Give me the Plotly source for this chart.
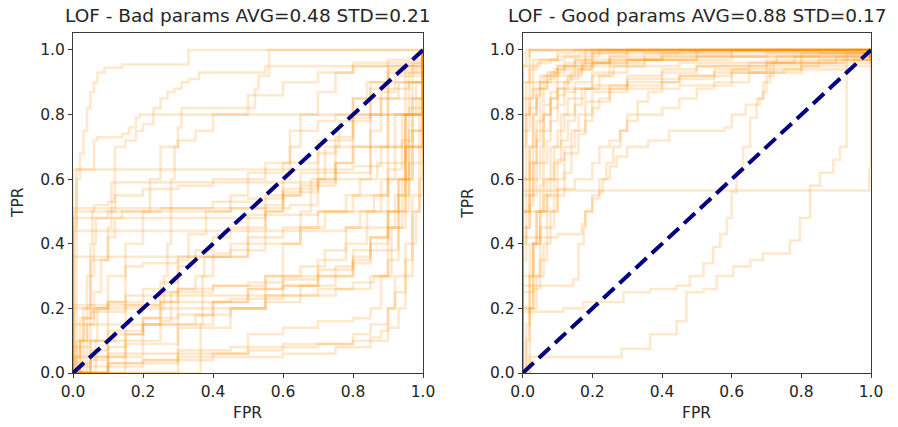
import plotly.graph_objects as go

# ROC curves of LOF runs with poorly chosen parameters (FPR / TPR per run)
bad_fpr = [
    [0, 0, 0.01, 0.02, 0.03, 0.04, 0.05, 0.06, 0.07, 0.09, 0.14, 0.33, 1],
    [0, 0, 0.06, 0.07, 0.14, 0.16, 0.18, 0.19, 0.23, 0.25, 0.27, 0.29, 0.31, 0.33, 0.36, 0.55, 0.97, 1],
    [0, 0.02, 0.04, 0.05, 0.06, 0.065, 0.1, 0.12, 0.12, 0.15, 0.18, 0.2, 0.23, 0.96, 1],
    [0, 0, 0.25, 0.26, 0.27, 0.28, 0.28, 0.29, 0.3, 0.31, 0.52, 0.53, 0.56, 1],
    [0, 0.36, 0.365, 0.37, 0.375, 0.5, 0.55, 0.6, 0.62, 0.65, 0.7, 0.75, 0.8, 1],
    [0, 0, 0.62, 0.7, 0.75, 0.8, 0.85, 0.9, 1],
    [0, 0, 0.45, 0.55, 0.65, 0.75, 0.85, 0.9, 0.95, 1],
    [0, 0, 0.5, 0.7, 0.9, 0.95, 1],
    [0, 0, 0.78, 0.9, 0.95, 1],
    [0, 0.01, 0.8, 0.88, 0.92, 0.96, 1],
    [0, 0.05, 0.1, 0.11, 0.75, 0.85, 0.9, 1],
    [0, 0, 0.4, 0.45, 0.5, 0.6, 0.7, 0.8, 0.9, 0.95, 1],
    [0, 0, 0.1, 0.2, 0.3, 0.4, 0.5, 0.6, 0.7, 0.8, 0.85, 0.9, 0.93, 0.96, 1],
    [0, 0.02, 0.05, 0.15, 0.3, 0.5, 0.6, 0.7, 0.8, 0.85, 0.9, 0.92, 0.95, 1],
    [0, 0.03, 0.1, 0.2, 0.3, 0.4, 0.5, 0.6, 0.7, 0.8, 0.85, 0.9, 0.93, 0.96, 1],
    [0, 0.1, 0.2, 0.3, 0.4, 0.5, 0.6, 0.7, 0.8, 0.85, 0.88, 0.9, 0.92, 0.95, 0.97, 1],
    [0, 0.1, 0.3, 0.5, 0.6, 0.7, 0.8, 0.85, 0.88, 0.91, 0.94, 0.97, 1],
    [0, 0.05, 0.15, 0.3, 0.45, 0.55, 0.65, 0.75, 0.8, 0.85, 0.9, 0.93, 0.95, 0.97, 1],
    [0, 0.02, 0.05, 0.1, 0.2, 0.3, 0.4, 0.5, 0.6, 0.7, 0.78, 0.84, 0.88, 0.92, 0.95, 0.98, 1],
    [0, 0, 0.15, 0.25, 0.4, 0.55, 0.65, 0.72, 0.78, 0.82, 0.86, 0.9, 0.94, 0.97, 1],
    [0, 0.05, 0.1, 0.15, 0.2, 0.25, 0.3, 0.35, 0.4, 0.5, 0.55, 0.6, 0.65, 0.7, 0.75, 0.8, 0.85, 0.9, 0.95, 1],
    [0, 0.1, 0.2, 0.25, 0.28, 0.3, 0.35, 0.4, 0.45, 0.5, 0.55, 0.6, 0.65, 0.7, 0.75, 0.8, 0.85, 0.88, 0.92, 1],
    [0, 0.01, 0.02, 0.03, 0.04, 0.05, 0.055, 0.06, 0.1, 0.12, 0.2, 0.3, 0.4, 0.5, 0.6, 0.7, 0.8, 0.85, 0.88, 0.9, 0.96, 1],
    [0, 0.06, 0.065, 0.07, 0.1, 0.15, 0.2, 0.25, 0.3, 0.33, 0.38, 0.45, 0.5, 0.55, 0.62, 0.7, 0.75, 0.8, 0.85, 0.9, 1],
    [0, 0.01, 0.03, 0.06, 0.1, 0.25, 0.45, 0.6, 0.7, 0.8, 0.86, 0.9, 0.93, 0.95, 0.97, 0.99, 1],
    [0, 0, 0.1, 0.3, 0.45, 0.6, 0.8, 0.85, 0.9, 0.92, 0.95, 0.97, 0.99, 1],
    [0, 0, 0.05, 0.12, 0.2, 0.35, 0.45, 0.55, 0.65, 0.75, 0.85, 0.9, 0.93, 0.96, 1],
    [0, 0.1, 0.15, 0.2, 0.3, 0.45, 0.55, 0.65, 0.72, 0.78, 0.82, 0.87, 0.9, 0.94, 0.97, 1],
    [0, 0.04, 0.06, 0.08, 0.1, 0.12, 0.14, 0.25, 0.4, 0.5, 0.6, 0.7, 0.75, 0.8, 0.85, 0.88, 0.9, 0.93, 0.97, 1],
    [0, 0.02, 0.1, 0.2, 0.4, 0.6, 0.75, 0.85, 0.9, 0.93, 0.95, 0.97, 0.98, 0.99, 1],
    [0, 0.15, 0.2, 0.22, 0.25, 0.3, 0.35, 0.4, 0.5, 0.6, 0.7, 0.8, 0.9, 1],
    [0, 0.3, 0.4, 0.55, 0.6, 0.65, 0.68, 0.72, 0.76, 0.8, 0.84, 0.9, 1],
]
bad_tpr = [
    [0, 0.45, 0.6, 0.68, 0.75, 0.82, 0.87, 0.9, 0.93, 0.945, 0.955, 1.0, 1],
    [0, 0.63, 0.72, 0.73, 0.74, 0.76, 0.79, 0.8, 0.82, 0.85, 0.87, 0.88, 0.9, 0.91, 0.93, 0.95, 0.96, 1],
    [0, 0.1, 0.2, 0.3, 0.4, 0.48, 0.5, 0.62, 0.7, 0.72, 0.75, 0.77, 0.8, 0.82, 1],
    [0, 0.15, 0.2, 0.3, 0.4, 0.5, 0.6, 0.7, 0.76, 0.82, 0.88, 0.92, 1.0, 1],
    [0, 0, 0.15, 0.3, 0.36, 0.4, 0.5, 0.6, 0.7, 0.8, 0.87, 0.93, 0.96, 1],
    [0, 0.51, 0.52, 0.6, 0.7, 0.8, 0.88, 0.94, 1],
    [0, 0.5, 0.51, 0.55, 0.58, 0.62, 0.7, 0.8, 0.9, 1],
    [0, 0.48, 0.49, 0.5, 0.6, 0.8, 1],
    [0, 0.44, 0.45, 0.5, 0.7, 1],
    [0, 0.63, 0.64, 0.7, 0.8, 0.9, 1],
    [0, 0.35, 0.45, 0.59, 0.6, 0.7, 0.85, 1],
    [0, 0.36, 0.37, 0.4, 0.42, 0.45, 0.5, 0.55, 0.65, 0.8, 1],
    [0, 0.21, 0.22, 0.24, 0.26, 0.27, 0.28, 0.29, 0.32, 0.36, 0.42, 0.5, 0.6, 0.8, 1],
    [0, 0.17, 0.19, 0.2, 0.24, 0.26, 0.27, 0.3, 0.35, 0.4, 0.45, 0.55, 0.7, 1],
    [0, 0.1, 0.13, 0.17, 0.2, 0.22, 0.24, 0.27, 0.3, 0.34, 0.38, 0.45, 0.55, 0.75, 1],
    [0, 0.02, 0.04, 0.05, 0.06, 0.07, 0.08, 0.09, 0.1, 0.11, 0.13, 0.2, 0.3, 0.4, 0.55, 1],
    [0, 0.03, 0.06, 0.12, 0.14, 0.16, 0.17, 0.2, 0.3, 0.45, 0.6, 0.75, 1],
    [0, 0.05, 0.09, 0.14, 0.2, 0.24, 0.27, 0.33, 0.38, 0.42, 0.5, 0.6, 0.7, 0.85, 1],
    [0, 0.03, 0.07, 0.1, 0.15, 0.18, 0.22, 0.26, 0.3, 0.35, 0.4, 0.5, 0.6, 0.7, 0.8, 0.9, 1],
    [0, 0.2, 0.21, 0.25, 0.27, 0.3, 0.33, 0.38, 0.45, 0.5, 0.55, 0.63, 0.72, 0.8, 1],
    [0, 0.04, 0.08, 0.12, 0.17, 0.22, 0.26, 0.3, 0.36, 0.45, 0.5, 0.57, 0.62, 0.68, 0.73, 0.79, 0.85, 0.9, 0.95, 1],
    [0, 0.05, 0.1, 0.16, 0.25, 0.33, 0.38, 0.42, 0.45, 0.48, 0.52, 0.55, 0.57, 0.62, 0.65, 0.7, 0.8, 0.87, 0.92, 1],
    [0, 0.05, 0.1, 0.2, 0.3, 0.4, 0.5, 0.52, 0.53, 0.55, 0.57, 0.58, 0.6, 0.62, 0.65, 0.72, 0.78, 0.8, 0.85, 0.88, 0.93, 1],
    [0, 0, 0.1, 0.2, 0.22, 0.24, 0.26, 0.28, 0.35, 0.43, 0.5, 0.55, 0.6, 0.65, 0.75, 0.78, 0.8, 0.85, 0.9, 0.93, 1],
    [0, 0.1, 0.17, 0.2, 0.21, 0.22, 0.23, 0.24, 0.26, 0.28, 0.3, 0.35, 0.45, 0.6, 0.7, 0.85, 1],
    [0, 0.05, 0.06, 0.07, 0.08, 0.09, 0.12, 0.15, 0.2, 0.25, 0.35, 0.5, 0.7, 1],
    [0, 0.08, 0.1, 0.12, 0.15, 0.18, 0.2, 0.22, 0.24, 0.26, 0.3, 0.38, 0.5, 0.65, 1],
    [0, 0.3, 0.33, 0.34, 0.36, 0.38, 0.4, 0.45, 0.5, 0.55, 0.6, 0.65, 0.7, 0.8, 0.9, 1],
    [0, 0.15, 0.25, 0.35, 0.42, 0.48, 0.5, 0.51, 0.53, 0.54, 0.56, 0.6, 0.65, 0.7, 0.75, 0.8, 0.85, 0.9, 0.95, 1],
    [0, 0.02, 0.03, 0.04, 0.05, 0.06, 0.08, 0.1, 0.14, 0.2, 0.3, 0.4, 0.5, 0.6, 1],
    [0, 0.4, 0.5, 0.6, 0.7, 0.72, 0.75, 0.8, 0.86, 0.9, 0.93, 0.95, 0.97, 1],
    [0, 0.15, 0.2, 0.3, 0.4, 0.5, 0.6, 0.7, 0.78, 0.85, 0.9, 0.95, 1],
]

# ROC curves of LOF runs with well chosen parameters
good_fpr = [
    [0, 0, 0.01, 0.02, 1],
    [0, 0, 0.02, 1],
    [0, 0, 0.01, 1],
    [0, 0, 0.01, 0.02, 0.03, 0.05, 0.1, 0.15, 1],
    [0, 0, 0.01, 0.02, 0.03, 0.04, 0.05, 0.07, 0.1, 0.15, 0.2, 0.3, 1],
    [0, 0, 0.01, 0.02, 0.03, 0.04, 0.05, 0.06, 0.08, 0.1, 0.13, 0.17, 0.25, 0.4, 0.6, 1],
    [0, 0, 0.02, 0.03, 0.04, 0.05, 0.06, 0.07, 0.08, 0.1, 0.12, 0.15, 0.2, 0.3, 0.45, 0.7, 1],
    [0, 0, 0.02, 0.03, 0.05, 0.06, 0.08, 0.1, 0.2, 0.3, 0.45, 0.6, 0.8, 0.95, 1],
    [0, 0, 0.03, 0.05, 0.07, 0.09, 0.11, 0.13, 0.15, 0.25, 0.3, 0.4, 0.5, 0.7, 0.9, 1],
    [0, 0, 0.03, 0.05, 0.07, 0.09, 0.1, 0.12, 0.14, 0.16, 0.18, 0.2, 0.25, 0.3, 0.4, 0.55, 0.75, 0.95, 1],
    [0, 0, 0.145, 0.16, 0.175, 0.18, 0.2, 0.22, 0.24, 0.26, 0.28, 0.3, 0.33, 0.4, 0.45, 0.5, 0.55, 0.65, 0.8, 1],
    [0, 0, 0.1, 0.17, 0.18, 0.2, 0.22, 0.23, 0.25, 0.27, 0.3, 0.36, 0.42, 0.58, 0.6, 0.64, 0.68, 0.69, 0.7, 0.72, 0.8, 1],
    [0, 0, 0.117, 0.174, 0.289, 0.366, 0.442, 0.48, 0.519, 0.547, 0.567, 0.586, 0.6, 0.614, 0.633, 0.653, 0.672, 0.691, 0.71, 0.729, 1],
    [0, 0.02, 0.284, 0.366, 0.442, 0.47, 0.52, 0.557, 0.605, 0.653, 0.69, 0.767, 0.796, 0.825, 0.854, 0.892, 0.911, 0.93, 1],
    [0, 0, 0.995, 1],
    [0, 0, 0.01, 0.02, 0.03, 0.05, 0.08, 0.12, 0.18, 0.25, 0.35, 0.5, 1],
    [0, 0, 0.02, 0.04, 0.06, 0.08, 0.1, 0.12, 0.14, 0.17, 0.2, 0.22, 1],
    [0, 0, 0.02, 0.04, 0.06, 0.08, 0.1, 0.12, 0.15, 0.18, 0.22, 0.26, 0.35, 0.5, 0.7, 1],
    [0, 0.01, 0.02, 0.04, 0.06, 0.08, 0.1, 0.12, 0.14, 0.16, 0.18, 0.2, 0.25, 0.3, 0.4, 0.5, 0.7, 0.92, 1],
    [0, 0, 0.02, 0.03, 0.04, 0.05, 0.07, 0.1, 0.15, 0.2, 0.3, 0.5, 0.8, 1],
    [0, 0, 0.01, 0.02, 0.04, 0.08, 0.12, 0.16, 0.2, 1],
    [0, 0, 0.03, 0.05, 0.1, 0.15, 0.25, 0.35, 0.5, 0.6, 1],
    [0, 0, 0.01, 0.02, 0.03, 0.04, 0.05, 0.06, 0.07, 0.09, 0.12, 0.15, 0.18, 1],
    [0, 0.02, 0.03, 0.05, 0.07, 0.09, 0.11, 0.13, 0.15, 0.17, 0.2, 0.25, 0.3, 0.4, 0.6, 1],
    [0, 0, 0.02, 0.04, 0.06, 0.08, 0.1, 0.13, 0.16, 0.2, 0.25, 0.3, 1],
    [0, 0, 0.03, 0.1, 0.2, 0.45, 1],
    [0, 0, 0.02, 0.04, 0.06, 0.1, 0.15, 0.2, 0.35, 0.6, 0.85, 1],
    [0, 0.01, 0.02, 0.03, 0.05, 0.06, 0.08, 0.1, 0.12, 0.15, 0.18, 0.2, 0.22, 0.25, 0.3, 0.45, 0.6, 0.7, 0.85, 1],
    [0, 0, 0.1, 0.15, 0.2, 0.22, 0.25, 0.28, 0.3, 0.33, 0.36, 0.4, 0.45, 0.55, 0.65, 0.78, 1],
]
good_tpr = [
    [0, 0.95, 0.98, 1.0, 1],
    [0, 0.9, 1.0, 1],
    [0, 0.99, 1.0, 1],
    [0, 0.6, 0.8, 0.9, 0.95, 0.97, 0.99, 1.0, 1],
    [0, 0.5, 0.6, 0.7, 0.8, 0.86, 0.9, 0.93, 0.95, 0.97, 0.99, 1.0, 1],
    [0, 0.35, 0.45, 0.55, 0.65, 0.72, 0.78, 0.83, 0.87, 0.9, 0.92, 0.95, 0.97, 0.98, 0.99, 1],
    [0, 0.2, 0.3, 0.4, 0.5, 0.58, 0.65, 0.72, 0.78, 0.83, 0.87, 0.9, 0.93, 0.95, 0.96, 0.97, 1],
    [0, 0.5, 0.52, 0.6, 0.7, 0.8, 0.85, 0.88, 0.89, 0.9, 0.92, 0.94, 0.95, 0.97, 1],
    [0, 0.25, 0.4, 0.5, 0.6, 0.7, 0.8, 0.85, 0.88, 0.89, 0.92, 0.94, 0.95, 0.96, 0.98, 1],
    [0, 0.2, 0.26, 0.35, 0.45, 0.55, 0.6, 0.68, 0.75, 0.8, 0.84, 0.87, 0.88, 0.89, 0.91, 0.93, 0.94, 0.95, 1],
    [0, 0.27, 0.29, 0.4, 0.45, 0.5, 0.55, 0.6, 0.65, 0.7, 0.75, 0.78, 0.8, 0.82, 0.85, 0.88, 0.9, 0.93, 0.96, 1],
    [0, 0.42, 0.43, 0.46, 0.5, 0.54, 0.56, 0.6, 0.64, 0.67, 0.7, 0.72, 0.75, 0.76, 0.8, 0.83, 0.85, 0.87, 0.92, 0.96, 0.98, 1],
    [0, 0.19, 0.2, 0.22, 0.25, 0.26, 0.27, 0.3, 0.34, 0.39, 0.43, 0.48, 0.56, 0.62, 0.7, 0.79, 0.85, 0.9, 0.96, 0.98, 1],
    [0, 0.05, 0.075, 0.12, 0.16, 0.25, 0.26, 0.3, 0.33, 0.35, 0.37, 0.41, 0.48, 0.58, 0.62, 0.66, 0.7, 0.99, 1],
    [0, 0.565, 0.63, 1],
    [0, 0.7, 0.8, 0.85, 0.88, 0.9, 0.93, 0.95, 0.97, 0.98, 0.99, 1.0, 1],
    [0, 0.45, 0.55, 0.65, 0.75, 0.82, 0.86, 0.9, 0.93, 0.96, 0.98, 1.0, 1],
    [0, 0.3, 0.4, 0.5, 0.6, 0.7, 0.75, 0.8, 0.85, 0.88, 0.92, 0.95, 0.97, 0.98, 0.99, 1],
    [0, 0.1, 0.2, 0.3, 0.4, 0.5, 0.55, 0.62, 0.68, 0.74, 0.8, 0.84, 0.88, 0.91, 0.93, 0.95, 0.96, 0.97, 1],
    [0, 0.55, 0.7, 0.8, 0.85, 0.88, 0.9, 0.92, 0.94, 0.96, 0.97, 0.98, 0.99, 1],
    [0, 0.8, 0.9, 0.94, 0.96, 0.97, 0.98, 0.99, 1.0, 1],
    [0, 0.85, 0.9, 0.92, 0.95, 0.96, 0.97, 0.98, 0.99, 1.0, 1],
    [0, 0.4, 0.5, 0.6, 0.7, 0.78, 0.84, 0.88, 0.91, 0.94, 0.96, 0.97, 1.0, 1],
    [0, 0.2, 0.3, 0.45, 0.55, 0.65, 0.72, 0.78, 0.83, 0.88, 0.92, 0.95, 0.97, 0.99, 1.0, 1],
    [0, 0.6, 0.65, 0.75, 0.8, 0.85, 0.88, 0.91, 0.94, 0.96, 0.98, 1.0, 1],
    [0, 0.95, 0.97, 0.98, 0.99, 1.0, 1],
    [0, 0.75, 0.82, 0.88, 0.92, 0.94, 0.95, 0.96, 0.97, 0.98, 0.99, 1],
    [0, 0.15, 0.3, 0.4, 0.5, 0.55, 0.6, 0.66, 0.7, 0.75, 0.78, 0.82, 0.85, 0.87, 0.88, 0.89, 0.93, 0.95, 0.97, 1],
    [0, 0.5, 0.57, 0.6, 0.65, 0.7, 0.72, 0.75, 0.8, 0.84, 0.87, 0.9, 0.92, 0.94, 0.96, 0.98, 1],
]

panel_titles = ["LOF - Bad params AVG=0.48 STD=0.21", "LOF - Good params AVG=0.88 STD=0.17"]
tick_values = [0.0, 0.2, 0.4, 0.6, 0.8, 1.0]
tick_text = ["0.0", "0.2", "0.4", "0.6", "0.8", "1.0"]
chance_line = [0.0, 1.0]

W, H = 898, 427
FONT = "DejaVu Sans"
CURVE = "rgba(255,140,0,0.2)"
FRAME = "#3a3a3a"
TEXT = "#262626"

# plot areas in pixels: (left, right), top/bottom shared
x_px = [(73, 423), (522.7, 871)]
top_px, bot_px = 33, 373

fig = go.Figure()

panels = [(bad_fpr, bad_tpr), (good_fpr, good_tpr)]
for i, (fprs, tprs) in enumerate(panels):
    xa = "x" if i == 0 else "x2"
    ya = "y" if i == 0 else "y2"
    for f, t in zip(fprs, tprs):
        fig.add_trace(go.Scatter(
            x=f, y=t, mode="lines", xaxis=xa, yaxis=ya,
            line=dict(color=CURVE, width=2.6, shape="hv"),
            hoverinfo="skip", showlegend=False))
    fig.add_trace(go.Scatter(
        x=chance_line, y=chance_line, mode="lines", xaxis=xa, yaxis=ya,
        line=dict(color="#000080", width=4, dash="15px,7px"),
        hoverinfo="skip", showlegend=False))

axis_common = dict(
    showgrid=False, zeroline=False, showline=True, mirror=True,
    linecolor=FRAME, linewidth=1, ticks="outside", ticklen=4,
    tickcolor=FRAME, tickwidth=1, tickvals=tick_values, ticktext=tick_text,
    tickfont=dict(family=FONT, size=15.5, color=TEXT), automargin=False,
)

annotations = []
for i in range(2):
    l, r = x_px[i]
    xd = [l / W, r / W]
    yd = [(H - bot_px) / H, (H - top_px) / H]
    sfx = "" if i == 0 else "2"
    fig.layout["xaxis" + sfx] = dict(axis_common, domain=xd, range=[0, 1],
                                     anchor="y" + sfx)
    fig.layout["yaxis" + sfx] = dict(axis_common, domain=yd, range=[0, 1.0526],
                                     anchor="x" + sfx)
    cx = (l + r) / 2 / W
    annotations.append(dict(text=panel_titles[i], x=cx, y=1 - 15 / H,
                            xref="paper", yref="paper", showarrow=False,
                            xanchor="center", yanchor="middle",
                            font=dict(family=FONT, size=18.5, color=TEXT)))
    annotations.append(dict(text="FPR", x=cx, y=1 - 413 / H,
                            xref="paper", yref="paper", showarrow=False,
                            xanchor="center", yanchor="middle",
                            font=dict(family=FONT, size=15.5, color=TEXT)))
    annotations.append(dict(text="TPR", x=(l - 55) / W, y=1 - 203 / H,
                            xref="paper", yref="paper", showarrow=False,
                            textangle=-90, xanchor="center", yanchor="middle",
                            font=dict(family=FONT, size=15.5, color=TEXT)))

fig.update_layout(
    width=W, height=H, margin=dict(l=0, r=0, t=0, b=0),
    paper_bgcolor="white", plot_bgcolor="white",
    annotations=annotations, showlegend=False,
)

fig.write_html("out.html")
